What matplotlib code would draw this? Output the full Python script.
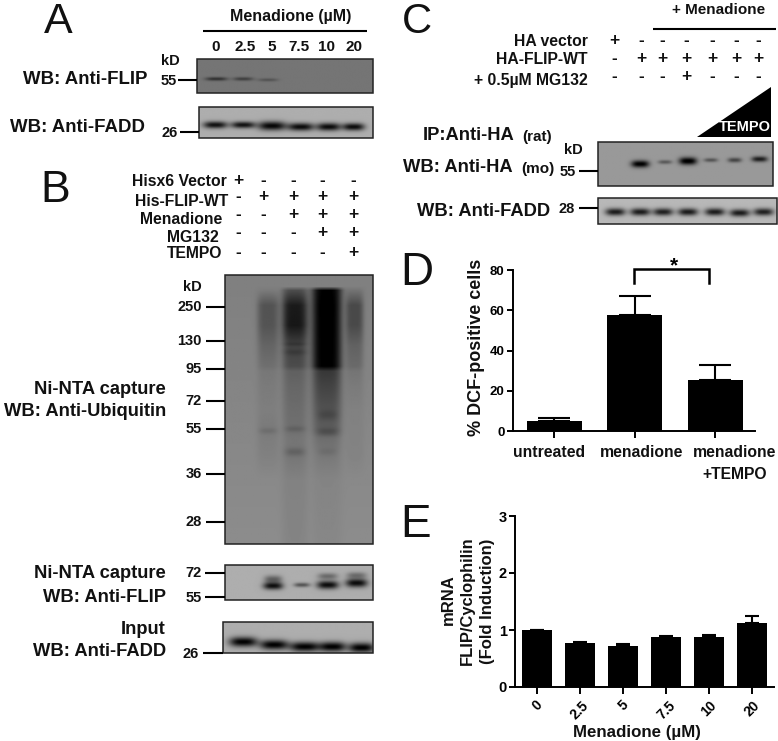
#!/usr/bin/env python3
"""Composite figure: western blot panels A-C and bar charts D, E."""
import numpy as np
import matplotlib
matplotlib.use("Agg")
import matplotlib.pyplot as plt
from matplotlib.patches import Polygon, Rectangle

plt.rcParams['font.family'] = ['Liberation Sans', 'DejaVu Sans']
plt.rcParams['mathtext.default'] = 'regular'

W, H = 778, 741

# --- bar chart data
d_labels = ["untreated", "menadione", "menadione\n+TEMPO"]
d_values = [5, 57.5, 25.5]
d_errors = [1.7, 9.5, 7.5]
d_yticks = [0, 20, 40, 60, 80]

e_labels = ["0", "2.5", "5", "7.5", "10", "20"]
e_values = [1.0, 0.78, 0.72, 0.87, 0.88, 1.13]
e_errors = [0.0, 0.005, 0.03, 0.03, 0.03, 0.12]
e_yticks = [0, 1, 2, 3]

# --- treatment tables
b_rows = ["Hisx6 Vector", "His-FLIP-WT", "Menadione", "MG132", "TEMPO"]
b_signs = ["+----", "-++++", "--+++", "---++", "----+"]
c_rows = ["HA vector", "HA-FLIP-WT", "+ 0.5\u00b5M MG132"]
c_signs = ["+------", "-++++++", "---+---"]

# --- blot bands: x, y, half width, half height, darkness (pixels of the page)
a1_bands = [(216, 79, 11, 1.8, 0.28), (243, 79, 10, 1.8, 0.22), (268, 80, 10, 1.6, 0.14)]
a2_bands = [(215, 125, 12, 3.6, 0.62), (243, 125, 12, 3.4, 0.62), (272, 126, 14, 4.6, 0.66),
            (301, 127, 13, 4.0, 0.64), (329, 127, 12, 4.0, 0.64), (354, 127, 11, 3.8, 0.64)]
b_flip_bands = [(273, 586, 10, 3.8, 0.62), (273, 579, 9, 3.8, 0.3), (302, 585, 8, 2.2, 0.36),
                (328, 585, 11, 4.2, 0.64), (328, 576, 10, 3.2, 0.26),
                (357, 583, 11, 4.4, 0.64), (357, 575, 10, 3.2, 0.24)]
b_input_bands = [(243, 642, 14, 5.0, 0.68), (274, 645, 14, 5.0, 0.68), (305, 647, 15, 5.0, 0.68),
                 (333, 647, 13, 5.0, 0.68), (362, 648, 13, 5.0, 0.68)]
c1_bands = [(640, 164, 9, 3.6, 0.62), (665, 162, 7, 2.0, 0.26), (688, 161, 9, 3.8, 0.64),
            (711, 160, 7, 2.0, 0.28), (735, 160, 7, 2.4, 0.34), (760, 159, 8, 2.8, 0.5)]
c2_bands = [(615, 212, 10, 3.8, 0.62), (640, 212, 10, 3.8, 0.62), (663, 212, 10, 3.8, 0.6),
            (688, 212, 10, 3.8, 0.62), (715, 212, 10, 3.8, 0.62), (740, 213, 10, 3.8, 0.62),
            (764, 212, 10, 3.8, 0.6)]

# ubiquitin smear, darkness down each lane
smear_y = [286, 290, 305, 325, 345, 366, 371, 385, 410, 430, 438, 455, 480]
smear_x = [268, 295, 327, 355]
smear_w = [11, 13, 15, 9]
smear_dark = [
    [0.0, 0.02, 0.18, 0.18, 0.12, 0.08, 0.05, 0.04, 0.03, 0.05, 0.04, 0.03, 0.0],
    [0.0, 0.20, 0.40, 0.42, 0.25, 0.22, 0.14, 0.12, 0.10, 0.09, 0.07, 0.07, 0.03],
    [0.0, 0.50, 0.52, 0.52, 0.52, 0.52, 0.30, 0.26, 0.20, 0.16, 0.10, 0.06, 0.02],
    [0.0, 0.05, 0.22, 0.22, 0.13, 0.10, 0.06, 0.04, 0.02, 0.02, 0.02, 0.02, 0.0],
]
ubi_bands = [(268, 431, 9, 3, 0.05), (295, 429, 10, 3, 0.06), (295, 452, 10, 4, 0.08),
             (328, 432, 11, 4, 0.08), (328, 415, 10, 5, 0.06), (328, 452, 9, 4, 0.04),
             (295, 352, 12, 3, 0.05), (295, 344, 12, 2, 0.05)]


def px_axes(fig, left, top, right, bottom):
    return fig.add_axes([left / W, 1 - bottom / H, (right - left) / W, (bottom - top) / H])


def blot_image(box, bg, bands):
    x0, y0, x1, y1 = box
    xs, ys = np.meshgrid(np.arange(x0, x1 + 1), np.arange(y0, y1 + 1))
    img = np.full(xs.shape, float(bg))
    for x, y, w, h, d in bands:
        img -= d * np.exp(-np.abs((xs - x) / w) ** 3) * np.exp(-((ys - y) / h) ** 2)
    return img, xs, ys


def draw_blot(ax, box, img, edge='#222222'):
    x0, y0, x1, y1 = box
    ax.imshow(np.clip(img, 0, 1), cmap='gray', vmin=0, vmax=1, aspect='auto',
              extent=(x0, x1, y1, y0), interpolation='bilinear', zorder=1)
    ax.add_patch(Rectangle((x0, y0), x1 - x0, y1 - y0, fill=False, ec=edge, lw=1.1, zorder=2))


def label(ax, x, y, s, size=11.3, ha='center', **kw):
    kw.setdefault('weight', 'bold')
    ax.text(x, y, s, fontsize=size, ha=ha, va='center', color='#111111', **kw)


def marker(ax, x0, x1, y):
    ax.plot([x0, x1], [y, y], color='black', lw=1.5, solid_capstyle='butt', zorder=3)


def sign_table(ax, rows, signs, xs, ys):
    for r, row in enumerate(signs):
        for x, s in zip(xs, row):
            label(ax, x, ys[r], s, size=12.5)


fig = plt.figure(figsize=(W / 100, H / 100), dpi=100, facecolor='white')
page = fig.add_axes([0, 0, 1, 1])
page.axis('off')

# panel letters
for s, x, y, size in [("A", 58, 33, 31), ("B", 55, 202, 32), ("C", 417, 33, 30),
                      ("D", 417, 285, 33), ("E", 415.5, 537, 33)]:
    page.text(x, y, s, fontsize=size, ha='center', va='baseline', color='#111111')

# --- A
label(page, 291, 17, "Menadione (\u00b5M)", size=11.5)
marker(page, 203, 367, 30.5)
for x, s in zip([216, 245, 272, 299, 327, 354], e_labels):
    label(page, x, 47, s, size=11)
label(page, 170, 61, "kD", size=10.5)
draw_blot(page, (197, 59, 373, 93), blot_image((197, 59, 373, 93), 0.46, a1_bands)[0])
draw_blot(page, (199, 107, 373, 138), blot_image((199, 107, 373, 138), 0.68, a2_bands)[0])
label(page, 147, 80, "WB: Anti-FLIP", size=13.4, ha='right')
label(page, 145, 127, "WB: Anti-FADD", size=13.4, ha='right')
label(page, 169, 81, "55", size=10.5)
marker(page, 178, 197, 80)
label(page, 170, 133, "26", size=10.5)
marker(page, 180, 199, 132)

# --- B
for s, x, y in zip(b_rows, [227, 228, 222, 219, 222], [182, 201, 220, 237, 254]):
    label(page, x, y, s, ha='right')
sign_table(page, b_rows, b_signs, [238, 263, 293, 322, 353], [180, 197, 215, 232, 252])

ubi_box = (225, 275, 373, 544)
ubi, xs, ys = blot_image(ubi_box, 0.5, ubi_bands)
ubi += 0.05 * (ys - 275) / 269
for cx, w, dark in zip(smear_x, smear_w, smear_dark):
    ubi -= np.interp(ys, smear_y, dark) * np.exp(-np.abs((xs - cx) / w) ** 4)
draw_blot(page, ubi_box, ubi)
label(page, 192, 287, "kD", size=10.5)
for s, y in zip(["250", "130", "95", "72", "55", "36", "28"], [307, 341, 369, 401, 429, 474, 522]):
    label(page, 202, y, s, size=10.5, ha='right')
    marker(page, 206, 225, y)
label(page, 166, 389, "Ni-NTA capture", size=13.2, ha='right')
label(page, 166, 412, "WB: Anti-Ubiquitin", size=13.2, ha='right')

draw_blot(page, (225, 565, 373, 600), blot_image((225, 565, 373, 600), 0.68, b_flip_bands)[0])
label(page, 166, 574, "Ni-NTA capture", size=13.2, ha='right')
label(page, 166, 597, "WB: Anti-FLIP", size=13.2, ha='right')
label(page, 202, 573, "72", size=10.5, ha='right')
marker(page, 205, 225, 573)
label(page, 202, 598, "55", size=10.5, ha='right')
marker(page, 205, 225, 597)

draw_blot(page, (223, 622, 373, 653), blot_image((223, 622, 373, 653), 0.68, b_input_bands)[0])
label(page, 166, 629, "Input", size=13.2, ha='right')
label(page, 166, 651, "WB: Anti-FADD", size=13.2, ha='right')
label(page, 199, 654, "26", size=10.5, ha='right')
marker(page, 203, 223, 653)

# --- C
label(page, 719, 10, "+ Menadione", size=11)
marker(page, 653, 776, 29)
for s, y in zip(c_rows, [41, 60, 80]):
    label(page, 588, y, s, ha='right')
sign_table(page, c_rows, c_signs, [614, 641, 662, 686, 712, 736, 758], [40, 59, 77])
page.add_patch(Polygon([(697, 137), (771, 137), (771, 87)], closed=True, fc='black', ec='none'))
page.text(745, 127, "TEMPO", fontsize=10.5, weight='bold', color='white', ha='center', va='center')
label(page, 423, 136, "IP:Anti-HA", size=13.2, ha='left')
label(page, 522, 137, "(rat)", size=11, ha='left')
label(page, 403, 168, "WB: Anti-HA", size=13.2, ha='left')
label(page, 521, 169, "(mo)", size=11, ha='left')
label(page, 573, 150, "kD", size=10.5)
label(page, 568, 172, "55", size=10.5)
marker(page, 579, 598, 171)
draw_blot(page, (598, 142, 773, 186), blot_image((598, 142, 773, 186), 0.6, c1_bands)[0])
draw_blot(page, (598, 198, 777, 224), blot_image((598, 198, 777, 224), 0.72, c2_bands)[0])
label(page, 417, 212, "WB: Anti-FADD", size=13.2, ha='left')
label(page, 567, 209, "28", size=10.5)
marker(page, 579, 598, 208)

page.set_xlim(0, W)
page.set_ylim(H, 0)

# --- D
ax_d = px_axes(fig, 513, 270, 755, 431)
ax_d.bar(range(3), d_values, width=0.68, color='black')
ax_d.errorbar(range(3), d_values, yerr=[[0] * 3, d_errors], fmt='none', ecolor='black',
              elinewidth=1.5, capsize=11.5, capthick=1.5)
ax_d.set_xlim(-0.51, 2.49)
ax_d.set_ylim(0, 80)
ax_d.set_xticks(range(3))
ax_d.set_xticklabels([])
ax_d.set_yticks(d_yticks)
ax_d.tick_params(axis='y', labelsize=9.5, width=1.4, length=4, pad=2)
ax_d.tick_params(axis='x', width=1.4, length=5)
ax_d.set_yticklabels([str(v) for v in d_yticks], weight='bold')
# significance bracket
ax_d.plot([0.99, 0.99, 1.92, 1.92], [73.5, 80.3, 80.3, 73.5], color='black', lw=1.8,
          clip_on=False, solid_joinstyle='miter')
ax_d.text(1.48, 82, "*", fontsize=15, weight='bold', ha='center', va='center', clip_on=False)
label(page, 477, 347, "% DCF-positive cells", size=13, rotation=90)
for x, s in zip([549, 642, 735], d_labels):
    page.text(x, 445, s, fontsize=11.3, weight='bold', ha='center', va='top', color='#111111',
              linespacing=1.6)

# --- E
ax_e = px_axes(fig, 515, 516, 774, 687)
ax_e.bar(range(6), e_values, width=0.71, color='black')
ax_e.errorbar(range(6), e_values, yerr=[[0] * 6, e_errors], fmt='none', ecolor='black',
              elinewidth=1.5, capsize=5, capthick=1.5)
ax_e.set_xlim(-0.51, 5.51)
ax_e.set_ylim(0, 3)
ax_e.set_xticks(range(6))
ax_e.set_xticklabels(e_labels, rotation=45, ha='center', rotation_mode='default', weight='bold')
ax_e.set_yticks(e_yticks)
ax_e.set_yticklabels([str(v) for v in e_yticks], weight='bold')
ax_e.tick_params(axis='y', labelsize=10.5, width=1.4, length=4, pad=2)
ax_e.tick_params(axis='x', labelsize=10, width=1.4, length=5, pad=3)
label(page, 637, 732, "Menadione (\u00b5M)", size=12.2)
label(page, 448, 600, "mRNA", size=12, rotation=90)
label(page, 467, 601, "FLIP/Cyclophilin", size=11.9, rotation=90)
label(page, 488, 601, "(Fold Induction)", size=12, rotation=90)

for ax in (ax_d, ax_e):
    ax.patch.set_alpha(0)
    ax.spines[['top', 'right']].set_visible(False)
    ax.spines[['left', 'bottom']].set_linewidth(1.4)

fig.savefig("out.png", dpi=100)
